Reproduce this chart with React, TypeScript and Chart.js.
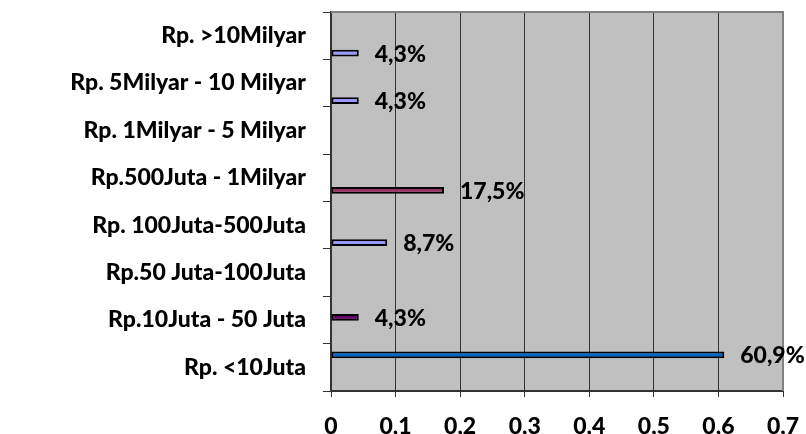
import React, { useEffect, useRef } from "react";
import { Chart, registerables } from "chart.js";

Chart.register(...registerables);

// Categories, top to bottom as shown
const categories = [
  "Rp. >10Milyar",
  "Rp. 5Milyar - 10 Milyar",
  "Rp. 1Milyar - 5 Milyar",
  "Rp.500Juta - 1Milyar",
  "Rp. 100Juta-500Juta",
  "Rp.50 Juta-100Juta",
  "Rp.10Juta - 50 Juta",
  "Rp. <10Juta",
];

// Share of respondents per category (null = no bar)
const values: (number | null)[] = [0.043, 0.043, null, 0.175, 0.087, null, 0.043, 0.609];

// Which series (1-based, Excel clustered) each category's value sits in
const seriesOfCategory = [1, 1, 0, 2, 1, 0, 5, 7];

// Excel default series palette (series 1..8)
const seriesColors = ["#9999FF", "#993366", "#FFFFCC", "#CCFFFF", "#660066", "#FF8080", "#0066CC", "#CCCCFF"];

const xTicks = [0, 0.1, 0.2, 0.3, 0.4, 0.5, 0.6, 0.7];

const FONT = "Lato";
const FSIZE = 23;
const FWEIGHT = "900";

const fmtPct = (v: number) => (v * 100).toFixed(1).replace(".", ",") + "%";
const fmtTick = (v: number) => String(Math.round(v * 10) / 10).replace(".", ",");

export default function App() {
  const ref = useRef<HTMLCanvasElement | null>(null);

  useEffect(() => {
    document.body.style.margin = "0";
    const canvas = ref.current!;
    // datasets: series 8 first so series 1 sits at the bottom of each cluster
    const datasets = [];
    for (let s = 8; s >= 1; s--) {
      datasets.push({
        label: "Series " + s,
        data: values.map((v, i) => (seriesOfCategory[i] === s ? v : null)),
        backgroundColor: seriesColors[s - 1],
        borderColor: "#000000",
        borderWidth: 2,
        borderSkipped: false,
        categoryPercentage: 8 / 9.5,
        barPercentage: 1.35,
      });
    }

    const bgPlugin = {
      id: "plotBg",
      beforeDraw(chart: any) {
        const { ctx, chartArea: a } = chart;
        ctx.save();
        ctx.fillStyle = "#C0C0C0";
        ctx.fillRect(a.left, a.top, a.right - a.left, a.bottom - a.top);
        ctx.restore();
      },
      afterDatasetsDraw(chart: any) {
        const { ctx, chartArea: a } = chart;
        ctx.save();
        ctx.strokeStyle = "#808080";
        ctx.lineWidth = 2;
        ctx.beginPath();
        ctx.moveTo(a.left, a.top);
        ctx.lineTo(a.right, a.top);
        ctx.lineTo(a.right, a.bottom);
        ctx.stroke();
        ctx.restore();
        // data labels
        ctx.save();
        ctx.font = `${FWEIGHT} ${FSIZE}px ${FONT}`;
        ctx.fillStyle = "#000";
        ctx.textAlign = "left";
        ctx.textBaseline = "middle";
        chart.data.datasets.forEach((ds: any, di: number) => {
          const meta = chart.getDatasetMeta(di);
          ds.data.forEach((v: number | null, i: number) => {
            if (v == null) return;
            const el = meta.data[i];
            ctx.fillText(fmtPct(v), el.x + 16, el.y + 1);
          });
        });
        ctx.restore();
      },
    };

    const chart = new Chart(canvas, {
      type: "bar",
      data: { labels: categories, datasets },
      options: {
        indexAxis: "y",
        animation: false,
        responsive: false,
        maintainAspectRatio: false,
        layout: { padding: { top: 12, right: 23, left: 0, bottom: 0 } },
        plugins: { legend: { display: false }, tooltip: { enabled: false } },
        scales: {
          x: {
            min: 0,
            max: 0.7,
            afterBuildTicks(scale: any) {
              scale.ticks = xTicks.map((v) => ({ value: v }));
            },
            afterFit(scale: any) {
              scale.height = 43;
              scale.paddingLeft = 0;
              scale.paddingRight = 0;
            },
            ticks: {
              callback: (v: any) => fmtTick(Number(v)),
              color: "#000",
              font: { family: FONT, size: FSIZE, weight: FWEIGHT },
              padding: 16,
              maxRotation: 0,
            },
            grid: { color: "#333", lineWidth: 1, tickLength: 6 },
            border: { color: "#333", width: 2 },
          },
          y: {
            afterFit(scale: any) {
              scale.width = 331;
              scale.paddingTop = 0;
              scale.paddingBottom = 0;
            },
            ticks: {
              color: "#000",
              font: { family: FONT, size: FSIZE, weight: FWEIGHT },
              padding: 17,
            },
            grid: { drawOnChartArea: false, offset: true, color: "#333", tickLength: 8 },
            border: { color: "#333", width: 2 },
          },
        },
      },
      plugins: [bgPlugin],
    } as any);
    return () => chart.destroy();
  }, []);

  return (
    <div style={{ width: 806, height: 434, background: "#fff" }}>
      <canvas ref={ref} width={806} height={434} style={{ display: "block" }} />
    </div>
  );
}
